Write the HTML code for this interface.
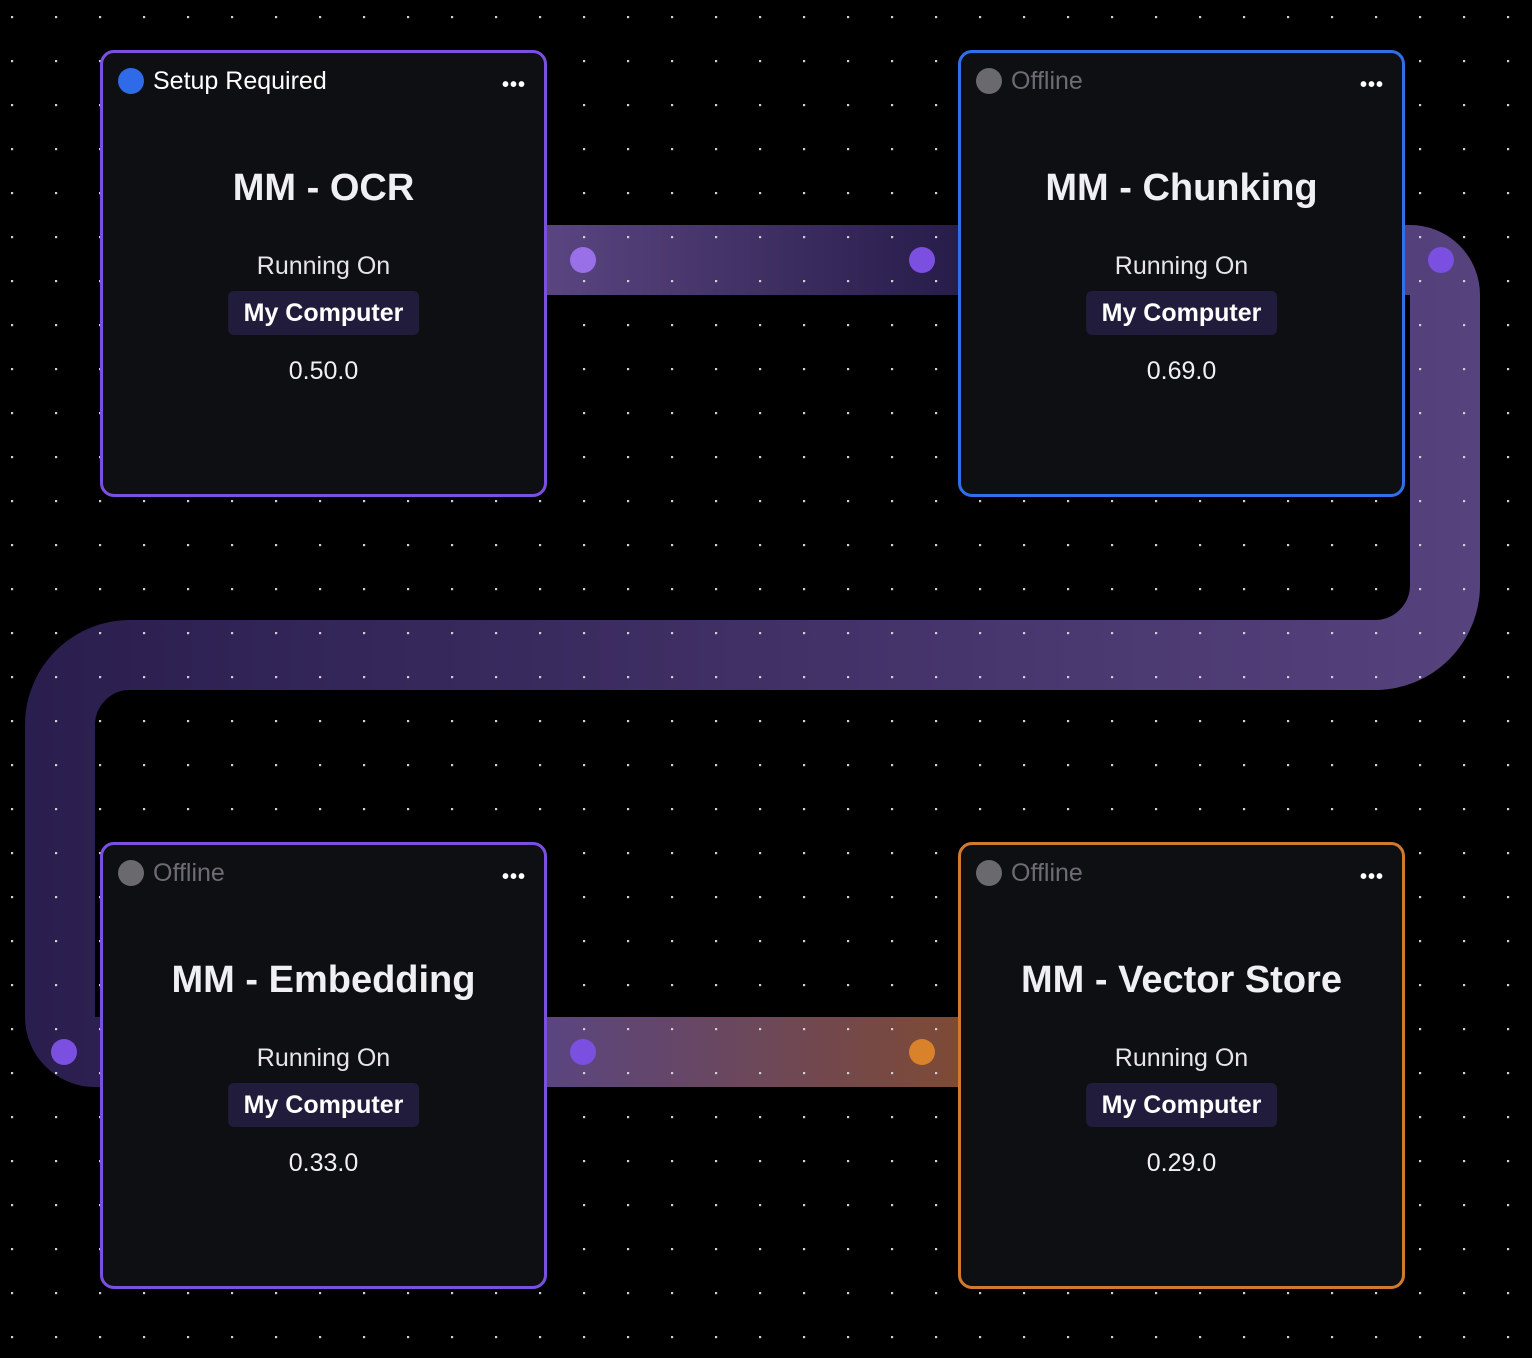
<!DOCTYPE html>
<html><head><meta charset="utf-8"><style>
html,body{margin:0;padding:0;background:#000;width:1532px;height:1358px;overflow:hidden;font-family:"Liberation Sans",sans-serif}
.card{position:absolute;width:441px;height:441px;border:3px solid;border-radius:14px;background:#0e0f13;box-sizing:content-box;color:#fff;text-align:center}
.st{position:absolute;left:15px;top:14px;height:28px;line-height:28px;font-size:25px;display:flex;align-items:center}
.st i{display:inline-block;width:26px;height:26px;border-radius:50%;margin-right:9px}
.dots{position:absolute;right:18px;top:27px;font-size:20px;letter-spacing:1px;line-height:10px;font-weight:bold}
.title{position:absolute;left:0;right:0;top:114px;font-size:38px;font-weight:bold;color:#f0f0f3}
.run{position:absolute;left:0;right:0;top:199px;font-size:25px;color:#e6e6ea}
.pill{position:absolute;left:50%;transform:translateX(-50%);top:238px;height:44px;line-height:44px;padding:0 16px;background:#221c3c;border-radius:6px;font-size:25px;font-weight:bold;white-space:nowrap}
.ver{position:absolute;left:0;right:0;top:304px;font-size:25px;color:#f0f0f3}
</style></head><body>
<svg width="1532" height="1358" style="position:absolute;left:0;top:0">
<defs>
<linearGradient id="g1" x1="546" y1="0" x2="958" y2="0" gradientUnits="userSpaceOnUse"><stop offset="0" stop-color="#5a4580"/><stop offset="1" stop-color="#271c4a"/></linearGradient>
<linearGradient id="g2" x1="1480" y1="0" x2="25" y2="0" gradientUnits="userSpaceOnUse"><stop offset="0" stop-color="#56427d"/><stop offset="1" stop-color="#2a1e4e"/></linearGradient>
<linearGradient id="g3" x1="546" y1="0" x2="958" y2="0" gradientUnits="userSpaceOnUse"><stop offset="0" stop-color="#5a4580"/><stop offset="1" stop-color="#7e4a35"/></linearGradient>
<pattern id="dp" x="11" y="16" width="44" height="44" patternUnits="userSpaceOnUse"><circle cx="1" cy="1" r="1.3" fill="#cfcfd6"/></pattern>
</defs>
<rect x="540" y="225" width="425" height="70" fill="url(#g1)"/>
<rect x="540" y="1017" width="425" height="70" fill="url(#g3)"/>
<path d="M1400 260 H1410 A35 35 0 0 1 1445 295 V585 A70 70 0 0 1 1375 655 H130 A70 70 0 0 0 60 725 V1017 A35 35 0 0 0 95 1052 H110" fill="none" stroke="url(#g2)" stroke-width="70"/>
<rect width="1532" height="1358" fill="url(#dp)"/>
<circle cx="583" cy="260" r="13" fill="#9a70e8"/>
<circle cx="922" cy="260" r="13" fill="#7b4fe0"/>
<circle cx="1441" cy="260" r="13" fill="#7b4fe0"/>
<circle cx="64" cy="1052" r="13" fill="#7b4fe0"/>
<circle cx="583" cy="1052" r="13" fill="#7b4fe0"/>
<circle cx="922" cy="1052" r="13" fill="#d9822b"/>
</svg>

<div class="card" style="left:100px;top:50px;border-color:#7b50e0">
<div class="st"><i style="background:#2f6be8"></i>Setup Required</div><div class="dots">•••</div>
<div class="title">MM - OCR</div><div class="run">Running On</div><div class="pill">My Computer</div><div class="ver">0.50.0</div></div>

<div class="card" style="left:958px;top:50px;border-color:#2f6fe8">
<div class="st" style="color:#6c6c72"><i style="background:#6a6a6e"></i>Offline</div><div class="dots">•••</div>
<div class="title">MM - Chunking</div><div class="run">Running On</div><div class="pill">My Computer</div><div class="ver">0.69.0</div></div>

<div class="card" style="left:100px;top:842px;border-color:#7b50e0">
<div class="st" style="color:#6c6c72"><i style="background:#6a6a6e"></i>Offline</div><div class="dots">•••</div>
<div class="title">MM - Embedding</div><div class="run">Running On</div><div class="pill">My Computer</div><div class="ver">0.33.0</div></div>

<div class="card" style="left:958px;top:842px;border-color:#d07a30">
<div class="st" style="color:#6c6c72"><i style="background:#6a6a6e"></i>Offline</div><div class="dots">•••</div>
<div class="title">MM - Vector Store</div><div class="run">Running On</div><div class="pill">My Computer</div><div class="ver">0.29.0</div></div>
</body></html>
